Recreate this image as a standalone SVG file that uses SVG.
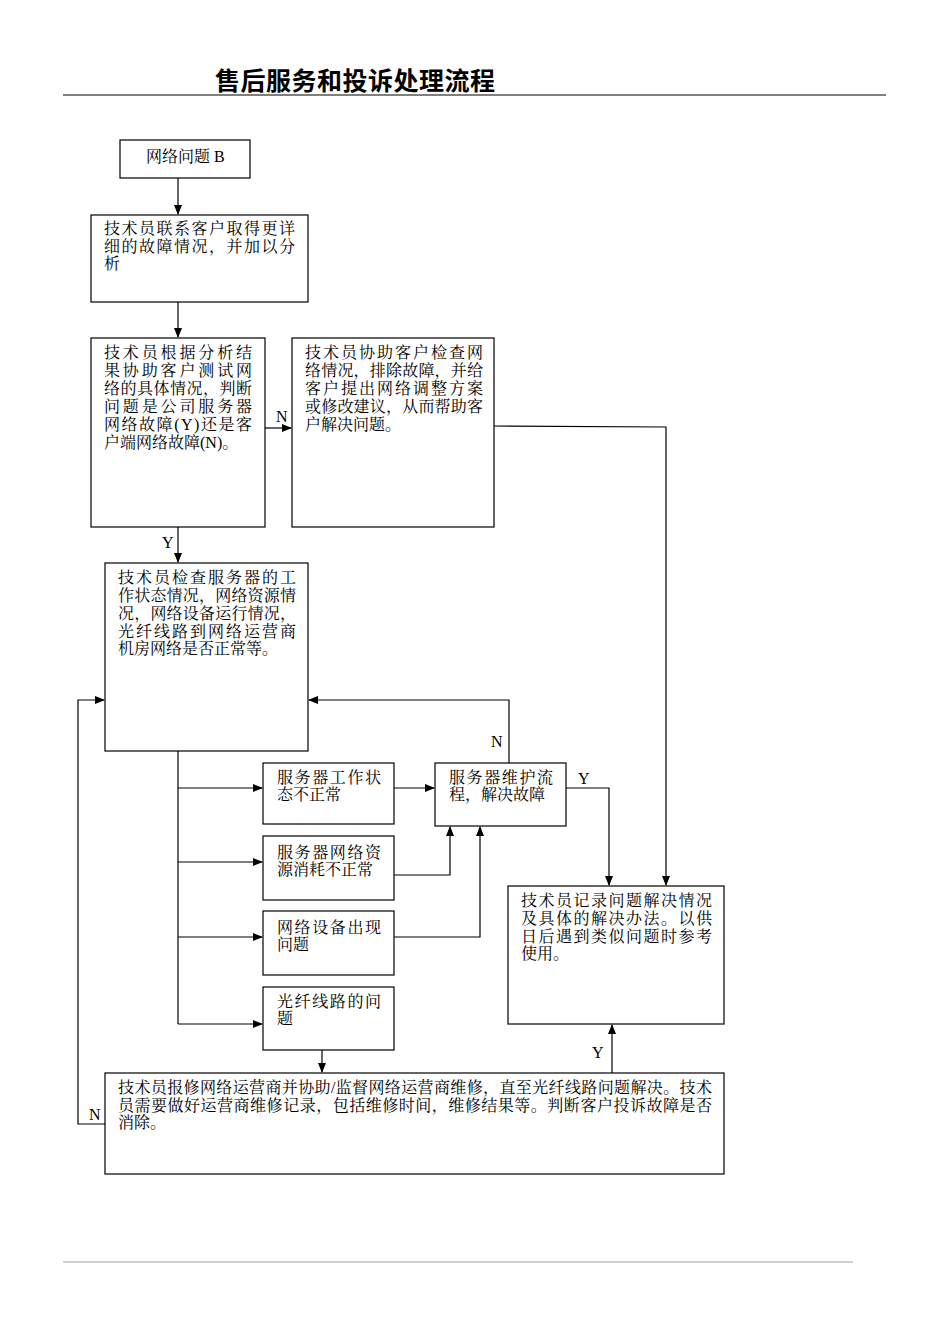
<svg xmlns="http://www.w3.org/2000/svg" width="950" height="1344" viewBox="0 0 950 1344">
<style>
.b{fill:#fff;stroke:#000;stroke-width:1.2}
.t{font-family:"Liberation Serif","Noto Serif CJK SC","Noto Sans CJK SC",serif;font-size:16px;fill:#000}
.c{fill:none;stroke:#000;stroke-width:1.2}
</style>
<defs><marker id="a" markerWidth="10" markerHeight="8" refX="9" refY="4" orient="auto" markerUnits="userSpaceOnUse"><path d="M0,0L10,4L0,8z" fill="#000"/></marker></defs>
<rect width="950" height="1344" fill="#fff"/>
<text x="215" y="90" font-family="'Liberation Serif','Noto Sans CJK SC',serif" font-size="25" font-weight="bold" textLength="280" lengthAdjust="spacing">售后服务和投诉处理流程</text>
<line x1="63" y1="95" x2="886" y2="95" stroke="#000" stroke-width="1.2"/>
<line x1="63" y1="1262" x2="853" y2="1262" stroke="#888" stroke-width="0.8"/>
<g id="connectors">
<path class="c" d="M178,178V214" marker-end="url(#a)"/>
<path class="c" d="M178,302V337" marker-end="url(#a)"/>
<path class="c" d="M265,428H291" marker-end="url(#a)"/>
<path class="c" d="M178,527V562" marker-end="url(#a)"/>
<path class="c" d="M178,751V1024"/>
<path class="c" d="M178,788H262" marker-end="url(#a)"/>
<path class="c" d="M178,862H262" marker-end="url(#a)"/>
<path class="c" d="M178,937H262" marker-end="url(#a)"/>
<path class="c" d="M178,1024H262" marker-end="url(#a)"/>
<path class="c" d="M394,788H434" marker-end="url(#a)"/>
<path class="c" d="M394,875H450V827" marker-end="url(#a)"/>
<path class="c" d="M394,937H480V827" marker-end="url(#a)"/>
<path class="c" d="M322,1050V1072" marker-end="url(#a)"/>
<path class="c" d="M509,763V700H309" marker-end="url(#a)"/>
<path class="c" d="M566,788H609V885" marker-end="url(#a)"/>
<path class="c" d="M494,426L666,427V885" marker-end="url(#a)"/>
<path class="c" d="M612,1073V1025" marker-end="url(#a)"/>
<path class="c" d="M105,1124H78V700H104" marker-end="url(#a)"/>
<text class="t" x="276" y="422">N</text>
<text class="t" x="162" y="548">Y</text>
<text class="t" x="491" y="747">N</text>
<text class="t" x="578" y="784">Y</text>
<text class="t" x="592" y="1058">Y</text>
<text class="t" x="89" y="1120">N</text>
</g>
<g id="n1"><rect class="b" x="120" y="140" width="130" height="38"/><text class="t" x="146" y="162">网络问题 B</text></g>
<g id="n2"><rect class="b" x="91" y="215" width="217" height="87"/><text class="t"><tspan x="104" y="234" textLength="191" lengthAdjust="spacing">技术员联系客户取得更详</tspan><tspan x="104" y="252" textLength="191" lengthAdjust="spacing">细的故障情况，并加以分</tspan><tspan x="104" y="269">析</tspan></text></g>
<g id="n3"><rect class="b" x="91" y="338" width="174" height="189"/><text class="t"><tspan x="104" y="358" textLength="148" lengthAdjust="spacing">技术员根据分析结</tspan><tspan x="104" y="376" textLength="148" lengthAdjust="spacing">果协助客户测试网</tspan><tspan x="104" y="394" textLength="148" lengthAdjust="spacing">络的具体情况，判断</tspan><tspan x="104" y="412" textLength="148" lengthAdjust="spacing">问题是公司服务器</tspan><tspan x="104" y="430" textLength="148" lengthAdjust="spacing">网络故障(Y)还是客</tspan><tspan x="104" y="448">户端网络故障(N)。</tspan></text></g>
<g id="n4"><rect class="b" x="292" y="338" width="202" height="189"/><text class="t"><tspan x="305" y="358" textLength="178" lengthAdjust="spacing">技术员协助客户检查网</tspan><tspan x="305" y="376" textLength="178" lengthAdjust="spacing">络情况，排除故障，并给</tspan><tspan x="305" y="394" textLength="178" lengthAdjust="spacing">客户提出网络调整方案</tspan><tspan x="305" y="412" textLength="178" lengthAdjust="spacing">或修改建议，从而帮助客</tspan><tspan x="305" y="430">户解决问题。</tspan></text></g>
<g id="n5"><rect class="b" x="105" y="563" width="203" height="188"/><text class="t"><tspan x="118" y="583" textLength="178" lengthAdjust="spacing">技术员检查服务器的工</tspan><tspan x="118" y="601" textLength="178" lengthAdjust="spacing">作状态情况，网络资源情</tspan><tspan x="118" y="619" textLength="178" lengthAdjust="spacing">况，网络设备运行情况，</tspan><tspan x="118" y="637" textLength="178" lengthAdjust="spacing">光纤线路到网络运营商</tspan><tspan x="118" y="654">机房网络是否正常等。</tspan></text></g>
<g id="n6"><rect class="b" x="263" y="763" width="131" height="61"/><text class="t"><tspan x="277" y="783" textLength="104" lengthAdjust="spacing">服务器工作状</tspan><tspan x="277" y="800">态不正常</tspan></text></g>
<g id="n7"><rect class="b" x="263" y="836" width="131" height="64"/><text class="t"><tspan x="277" y="858" textLength="104" lengthAdjust="spacing">服务器网络资</tspan><tspan x="277" y="875">源消耗不正常</tspan></text></g>
<g id="n8"><rect class="b" x="263" y="911" width="131" height="64"/><text class="t"><tspan x="277" y="933" textLength="104" lengthAdjust="spacing">网络设备出现</tspan><tspan x="277" y="950">问题</tspan></text></g>
<g id="n9"><rect class="b" x="263" y="987" width="131" height="63"/><text class="t"><tspan x="277" y="1007" textLength="104" lengthAdjust="spacing">光纤线路的问</tspan><tspan x="277" y="1024">题</tspan></text></g>
<g id="n10"><rect class="b" x="435" y="763" width="131" height="63"/><text class="t"><tspan x="449" y="783" textLength="104" lengthAdjust="spacing">服务器维护流</tspan><tspan x="449" y="800">程，解决故障</tspan></text></g>
<g id="n11"><rect class="b" x="508" y="886" width="216" height="138"/><text class="t"><tspan x="521" y="906" textLength="191" lengthAdjust="spacing">技术员记录问题解决情况</tspan><tspan x="521" y="924" textLength="191" lengthAdjust="spacing">及具体的解决办法。以供</tspan><tspan x="521" y="942" textLength="191" lengthAdjust="spacing">日后遇到类似问题时参考</tspan><tspan x="521" y="959">使用。</tspan></text></g>
<g id="n12"><rect class="b" x="105" y="1073" width="619" height="101"/><text class="t"><tspan x="118" y="1093" textLength="594" lengthAdjust="spacing">技术员报修网络运营商并协助/监督网络运营商维修，直至光纤线路问题解决。技术</tspan><tspan x="118" y="1111" textLength="594" lengthAdjust="spacing">员需要做好运营商维修记录，包括维修时间，维修结果等。判断客户投诉故障是否</tspan><tspan x="118" y="1128">消除。</tspan></text></g>
</svg>
